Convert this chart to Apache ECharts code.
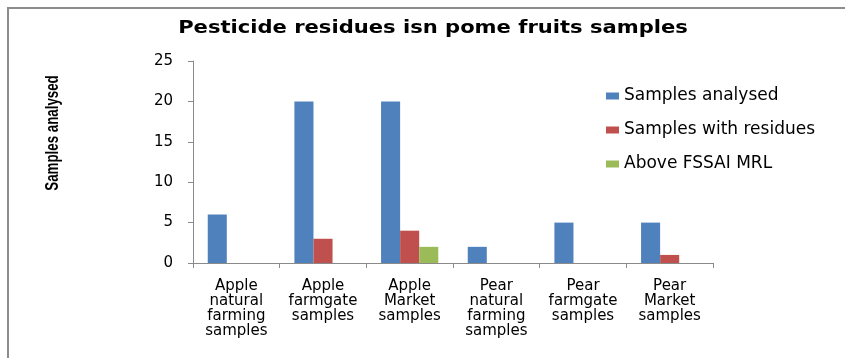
<!DOCTYPE html>
<html>
<head>
<meta charset="utf-8">
<script src="https://cdn.jsdelivr.net/npm/echarts@6/dist/echarts.min.js"></script>
<style>
  html, body { margin: 0; padding: 0; background: #fff; }
  #chart { width: 845px; height: 358px; }
</style>
</head>
<body>
<div id="chart"></div>
<script>
// Sample groups on the category axis (line breaks as printed under each group)
const categories = [
  'Apple\nnatural\nfarming\nsamples',
  'Apple\nfarmgate\nsamples',
  'Apple\nMarket\nsamples',
  'Pear\nnatural\nfarming\nsamples',
  'Pear\nfarmgate\nsamples',
  'Pear\nMarket\nsamples'
];

const seriesNames = ['Samples analysed', 'Samples with residues', 'Above FSSAI MRL'];
const samplesAnalysed = [6, 20, 20, 2, 5, 5];
const samplesWithResidues = [0, 3, 4, 0, 0, 1];
const aboveFssaiMrl = [0, 0, 2, 0, 0, 0];

const yMin = 0;
const yMax = 25;
const yStep = 5;

const chartTitle = 'Pesticide residues isn pome fruits samples';
const yAxisTitle = 'Samples analysed';

const colors = ['#4F81BD', '#C0504D', '#9BBB59'];
const axisGrey = '#8a8a8a';

const chart = echarts.init(document.getElementById('chart'), null, { renderer: 'canvas' });

const seriesData = [samplesAnalysed, samplesWithResidues, aboveFssaiMrl];

chart.setOption({
  animation: false,
  backgroundColor: '#ffffff',
  color: colors,
  legend: {
    orient: 'vertical',
    left: 601,
    top: 82,
    icon: 'rect',
    itemWidth: 13,
    itemHeight: 7,
    itemGap: 16,
    selectedMode: false,
    textStyle: {
      fontFamily: 'DejaVu Sans',
      fontSize: 17,
      lineHeight: 18,
      color: '#000',
      padding: [0, 0, 0, 0]
    },
    data: seriesNames
  },
  grid: {
    left: 193,
    right: 132,
    top: 61,
    bottom: 95
  },
  xAxis: {
    type: 'category',
    data: categories,
    boundaryGap: true,
    axisLine: { show: true, lineStyle: { color: axisGrey, width: 1 } },
    axisTick: { show: true, length: 5, inside: false, lineStyle: { color: axisGrey } },
    axisLabel: {
      interval: 0,
      margin: 16,
      fontFamily: 'DejaVu Sans',
      fontSize: 15,
      lineHeight: 15,
      color: '#000',
      align: 'center'
    },
    splitLine: { show: false }
  },
  yAxis: {
    type: 'value',
    min: yMin,
    max: yMax,
    interval: yStep,
    axisLine: { show: true, lineStyle: { color: axisGrey, width: 1 } },
    axisTick: { show: true, length: 5, inside: false, lineStyle: { color: axisGrey } },
    axisLabel: {
      margin: 20,
      fontFamily: 'DejaVu Sans',
      fontSize: 15,
      color: '#000'
    },
    splitLine: { show: false }
  },
  series: seriesNames.map((name, i) => ({
    name: name,
    type: 'bar',
    data: seriesData[i],
    barGap: '0%',
    barCategoryGap: '34%',
    itemStyle: { color: colors[i] }
  })),
  graphic: [
    // frame edges on the left and top of the chart area
    {
      type: 'line',
      shape: { x1: 8, y1: 7, x2: 8, y2: 358 },
      style: { stroke: '#8c8c8c', lineWidth: 2 }
    },
    {
      type: 'line',
      shape: { x1: 7, y1: 8, x2: 845, y2: 8 },
      style: { stroke: '#8c8c8c', lineWidth: 2 }
    },
    // chart title, widened horizontally
    {
      type: 'text',
      x: 433,
      y: 29,
      scaleX: 1.24,
      style: {
        text: chartTitle,
        fontFamily: 'DejaVu Sans',
        fontWeight: 'bold',
        fontSize: 17,
        fill: '#000',
        align: 'center',
        verticalAlign: 'middle'
      }
    },
    // vertical axis title, condensed along its length
    {
      type: 'text',
      x: 53,
      y: 133,
      rotation: Math.PI / 2,
      scaleX: 0.74,
      style: {
        text: yAxisTitle,
        fontFamily: 'Liberation Sans',
        fontWeight: 'bold',
        fontSize: 18,
        fill: '#000',
        align: 'center',
        verticalAlign: 'middle'
      }
    }
  ]
});
</script>
</body>
</html>
